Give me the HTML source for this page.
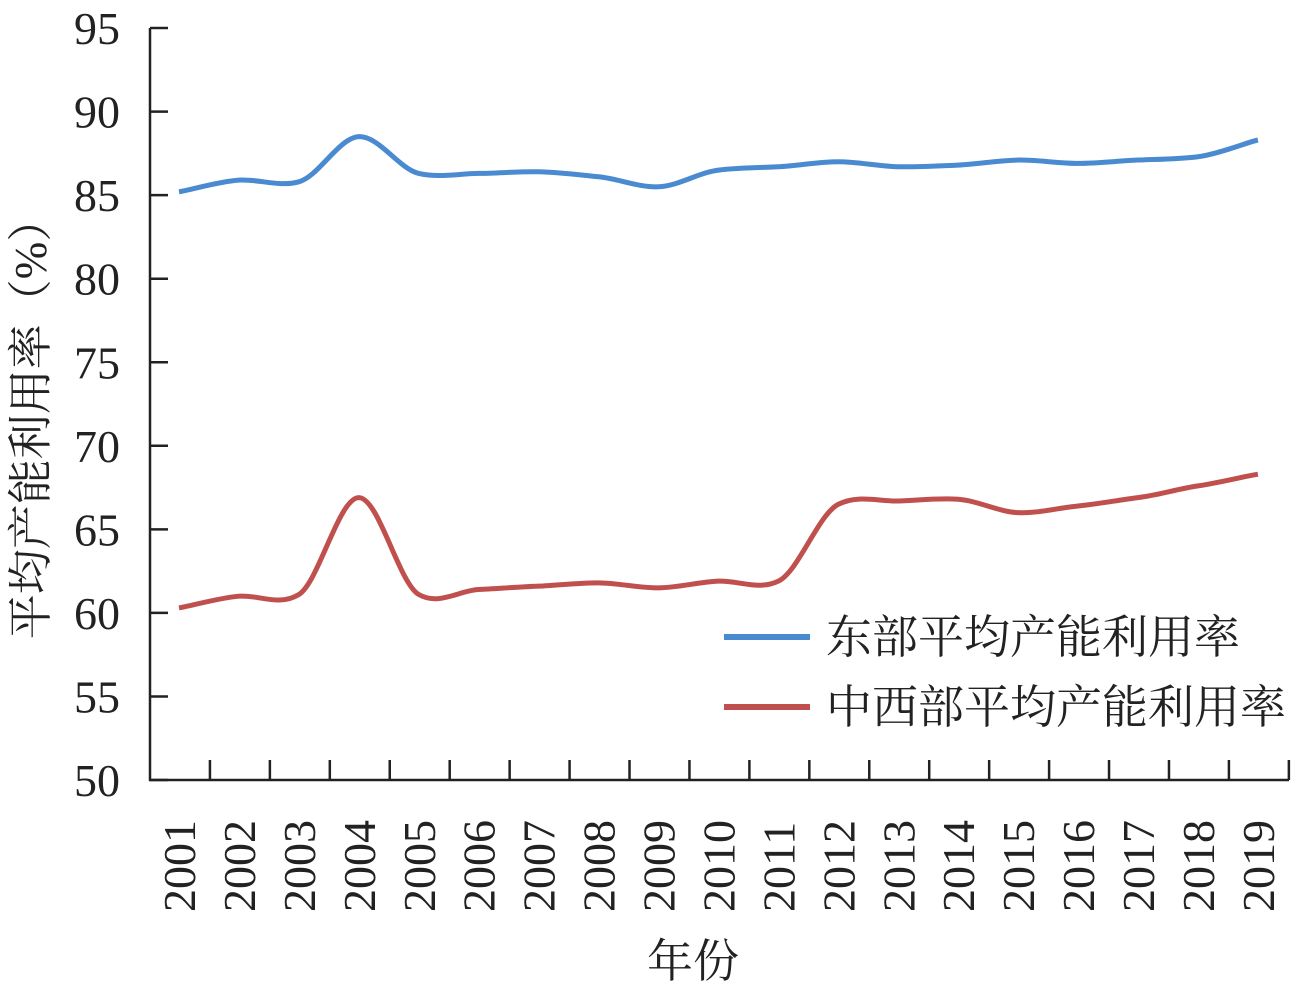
<!DOCTYPE html>
<html><head><meta charset="utf-8"><style>
body{margin:0;background:#fff}
svg text{font-family:"Liberation Serif","Noto Serif CJK SC",serif;fill:#222}
</style></head><body>
<svg id="s" width="1292" height="991" viewBox="0 0 1292 991" xmlns="http://www.w3.org/2000/svg">
<g stroke="#222" stroke-width="2.5" fill="none">
<line x1="150" y1="28" x2="150" y2="781"/>
<line x1="149" y1="780" x2="1289" y2="780"/>
</g>
<g id="yt" font-size="46" text-anchor="end"></g>
<g id="xt" font-size="46"></g>
<text x="0" y="0" font-size="45" transform="translate(46,418) rotate(-90)" text-anchor="middle">平均产能利用率（%）</text>
<text x="693" y="977" font-size="46" text-anchor="middle">年份</text>
<path id="e" fill="none" stroke="#4a8ad0" stroke-width="5"/>
<path id="c" fill="none" stroke="#c0504d" stroke-width="5"/>
<line x1="724" y1="637" x2="810" y2="637" stroke="#4a8ad0" stroke-width="6"/>
<line x1="724" y1="707" x2="810" y2="707" stroke="#c0504d" stroke-width="6"/>
<text x="826" y="653" font-size="46">东部平均产能利用率</text>
<text x="826" y="723" font-size="46">中西部平均产能利用率</text>
</svg>
<script>
var NS="http://www.w3.org/2000/svg";
function Y(v){return 780-(v-50)*16.71}
function X(i){return 179+i*59.94}
var yt=document.getElementById('yt'),xt=document.getElementById('xt'),s=document.getElementById('s');
for(var v=50;v<=95;v+=5){var t=document.createElementNS(NS,'text');t.setAttribute('x',120);t.setAttribute('y',Y(v)+16);t.textContent=v;yt.appendChild(t);
var l=document.createElementNS(NS,'line');l.setAttribute('x1',150);l.setAttribute('x2',168);l.setAttribute('y1',Y(v));l.setAttribute('y2',Y(v));l.setAttribute('stroke','#222');l.setAttribute('stroke-width',2.5);s.appendChild(l);}
for(var i=0;i<19;i++){var t=document.createElementNS(NS,'text');t.setAttribute('transform','translate('+(X(i)+16)+',912) rotate(-90)');t.textContent=2001+i;xt.appendChild(t);
var xx=150+(i+1)*59.94;var l=document.createElementNS(NS,'line');l.setAttribute('x1',xx);l.setAttribute('x2',xx);l.setAttribute('y1',760);l.setAttribute('y2',780);l.setAttribute('stroke','#222');l.setAttribute('stroke-width',2.5);s.appendChild(l);}
function path(d){var p=d.map(function(v,i){return [X(i),Y(v)]});var str='M'+p[0][0]+','+p[0][1];
for(var i=0;i<p.length-1;i++){var p0=p[i-1]||p[i],p1=p[i],p2=p[i+1],p3=p[i+2]||p2;
var k=8;
var c1=[p1[0]+(p2[0]-p0[0])/6,p1[1]+(p2[1]-p0[1])/k],c2=[p2[0]-(p3[0]-p1[0])/6,p2[1]-(p3[1]-p1[1])/k];
str+=' C'+c1+' '+c2+' '+p2;}return str}
document.getElementById('e').setAttribute('d',path([85.2,85.9,85.8,88.5,86.3,86.3,86.4,86.1,85.5,86.5,86.7,87.0,86.7,86.8,87.1,86.9,87.1,87.3,88.3]));
document.getElementById('c').setAttribute('d',path([60.3,61.0,61.1,66.9,61.1,61.4,61.6,61.8,61.5,61.9,61.9,66.5,66.7,66.8,66.0,66.4,66.9,67.6,68.3]));
</script>
</body></html>
